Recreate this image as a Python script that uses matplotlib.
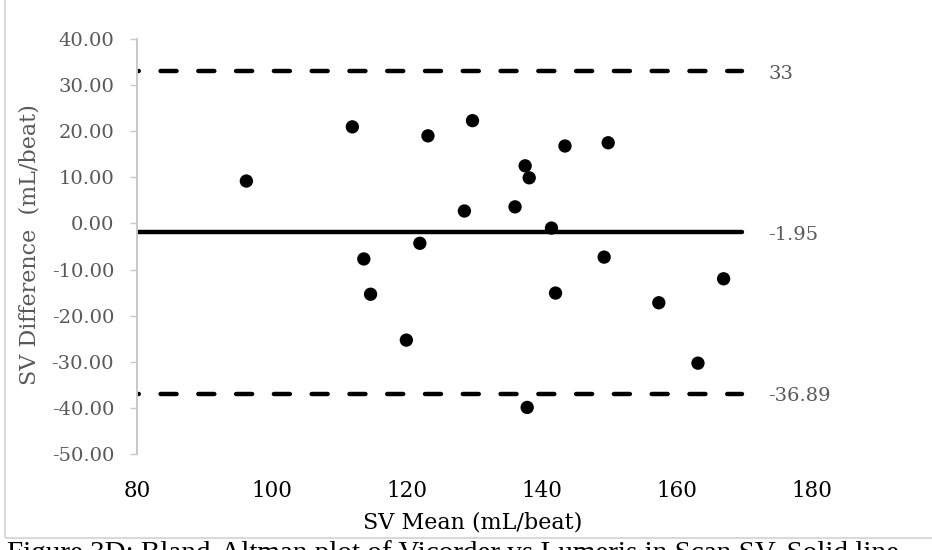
import matplotlib
matplotlib.use('Agg')
import matplotlib.pyplot as plt
import matplotlib.patches as patches

# Bland-Altman data
sv_mean = [96.2, 111.9, 123.1, 129.7, 128.5, 121.9, 113.6, 114.6, 119.9,
           143.4, 149.8, 137.5, 138.1, 136.0, 141.4, 149.2, 142.0, 157.3,
           166.9, 163.1, 137.8]
sv_diff = [9.2, 20.95, 19.0, 22.3, 2.7, -4.3, -7.7, -15.35, -25.3,
           16.8, 17.5, 12.5, 9.9, 3.6, -1.0, -7.3, -15.1, -17.2,
           -12.0, -30.3, -39.9]

bias = -1.95
upper_loa = 33
lower_loa = -36.89
line_x = [80, 169.6]

x_ticks = [80, 100, 120, 140, 160, 180]
y_ticks = [-50, -40, -30, -20, -10, 0, 10, 20, 30, 40]

gray = '#595959'
axis_gray = '#c8c8c8'
serif = 'DejaVu Serif'

fig = plt.figure(figsize=(9.32, 5.5), dpi=100)
ax = fig.add_axes([0.1470, 0.17455, 0.7243, 0.7545])

# limits of agreement and bias
dash = (3.2, (3.6, 4.9))
ax.plot(line_x, [upper_loa, upper_loa], color='k', lw=3.2, linestyle=dash,
        dash_capstyle='round', zorder=2)
ax.plot(line_x, [lower_loa, lower_loa], color='k', lw=3.2, linestyle=dash,
        dash_capstyle='round', zorder=2)
ax.plot(line_x, [bias, bias], color='k', lw=3.2, solid_capstyle='round', zorder=2)

ax.scatter(sv_mean, sv_diff, s=92, color='k', edgecolors='none', zorder=3)

for val, txt in [(upper_loa, '33'), (bias, '-1.95'), (lower_loa, '-36.89')]:
    ax.annotate(txt, xy=(173.5, val), xytext=(0, -2), textcoords='offset points',
                va='center', ha='left', fontsize=14, color=gray,
                family=serif, annotation_clip=False)

ax.set_xlim(80, 180)
ax.set_ylim(-50, 40)
ax.set_xticks(x_ticks)
ax.set_yticks(y_ticks)
ax.set_yticklabels(['{:.2f}'.format(v) for v in y_ticks])

for side in ['top', 'right', 'bottom']:
    ax.spines[side].set_visible(False)
ax.spines['left'].set_color(axis_gray)
ax.spines['left'].set_linewidth(1.4)

ax.tick_params(axis='y', direction='out', length=5, width=1, color=axis_gray,
               pad=11.5, labelsize=14, labelcolor=gray)
ax.tick_params(axis='x', length=0, pad=19, labelsize=15.5, labelcolor='k')
for lbl in ax.get_xticklabels() + ax.get_yticklabels():
    lbl.set_family(serif)

fig.text(473 / 932, 1 - 522 / 550, 'SV Mean (mL/beat)', ha='center', va='center',
         fontsize=16, color='k', family=serif)
fig.text(30 / 932, 1 - 245 / 550, 'SV Difference  (mL/beat)', ha='center', va='center',
         rotation=90, fontsize=16, color=gray, family=serif)

# chart border, partly outside the crop
fig.patches.append(patches.Rectangle((5 / 932, 1 - 538 / 550), 2, 2,
                                     transform=fig.transFigure, fill=False,
                                     ec='#d9d9d9', lw=1.5))

# caption of the document, cut off at the bottom as in the source
fig.text(7 / 932, 1 - 540.5 / 550, 'Figure 3D: Bland-Altman plot of Vicorder vs Lumeris in Scan SV. Solid line',
         ha='left', va='top', fontsize=21, color='k', family='Liberation Serif')

fig.savefig('out.png', dpi=100)
